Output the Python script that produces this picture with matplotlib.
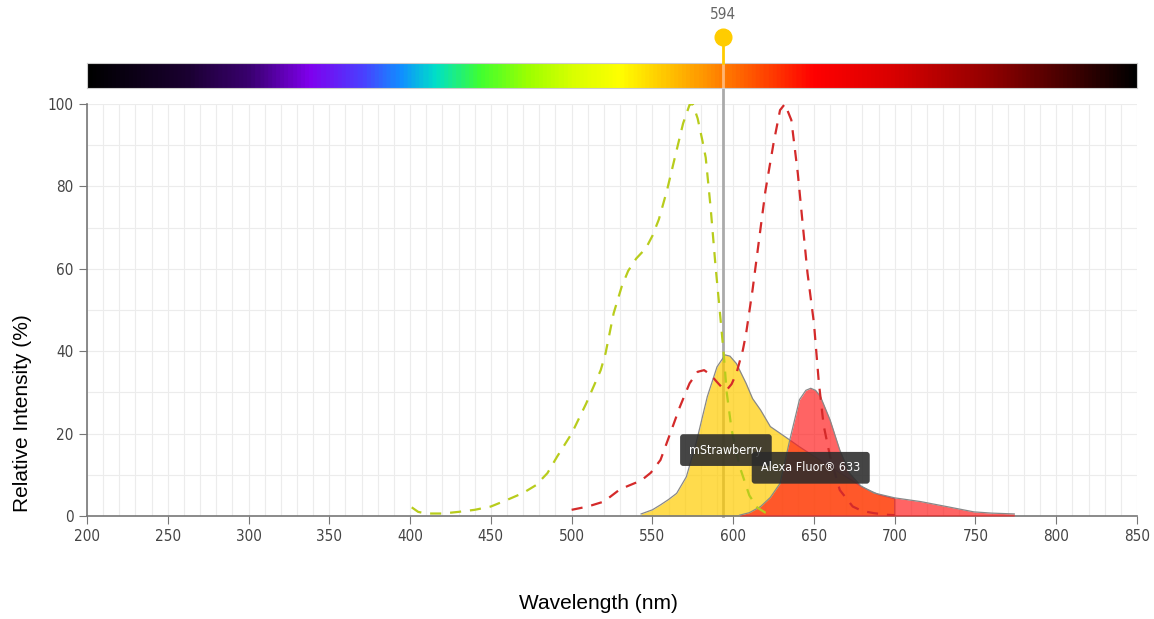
import numpy as np
import matplotlib
matplotlib.use("Agg")
import matplotlib.pyplot as plt
from matplotlib.colors import LinearSegmentedColormap

# ---- data ----
laser_nm = 594

exc_green_nm = [401, 405, 410, 420, 430, 440, 450, 460, 470, 478, 485, 491, 500, 509, 518,
                521, 526, 531, 535, 540, 546, 550, 554, 559, 565, 569, 573, 575, 578, 581,
                583, 586, 589, 592, 594, 596, 599, 604, 610, 615, 620, 625]
exc_green_val = [2.1, 1.0, 0.6, 0.6, 1.0, 1.5, 2.3, 3.9, 5.6, 7.5, 10.4, 14.4, 20, 27.3, 35.4,
                 39.5, 49.2, 55.7, 59.5, 62.5, 65, 68, 72, 79, 88.8, 95.3, 99.8, 100, 96.5, 91,
                 87, 75, 61, 48.5, 40, 30, 21, 12, 5, 2, 0.8, 0.3]

exc_red_nm = [500, 510, 520, 530, 538, 543, 549, 555, 561, 567, 573, 578, 582, 586, 590, 594,
              596, 599, 602, 606, 608, 612, 616, 620, 625, 629, 632, 636, 640, 643, 646, 650,
              653, 656, 660, 666, 674, 680, 687, 695, 700]
exc_red_val = [1.5, 2.3, 3.5, 6.5, 7.8, 8.6, 10.5, 13.6, 20, 26.5, 32.2, 35, 35.4, 34.3, 32.5,
               30.8, 30.6, 32, 34.6, 40.3, 44.3, 54.9, 67, 79, 90.5, 98.5, 100, 96.1, 83.2, 71,
               59, 46.8, 32.5, 22, 14.4, 6.3, 2.3, 1.2, 0.7, 0.3, 0.2]

em_yellow_nm = [543, 550, 555, 560, 565, 571, 577, 584, 590, 595, 598, 602, 608, 612, 617, 623,
                633, 641, 650, 660, 670, 680, 690, 700]
em_yellow_val = [0.5, 1.5, 2.7, 4, 5.5, 9.5, 17.6, 29, 36.2, 39.1, 38.8, 37, 32.2, 28.5, 25.7,
                 21.7, 19, 16.8, 14.5, 12, 9.5, 7, 5.2, 4.2]

em_red_nm = [604, 610, 617, 623, 629, 635, 639, 641, 645, 648, 651, 654, 660, 666, 672, 679,
             687, 700, 716, 732, 749, 760, 774]
em_red_val = [0.2, 0.8, 2.3, 4.5, 7.9, 18.4, 24.9, 28.2, 30.5, 31, 30.5, 29, 23.3, 16, 10.4,
              7.3, 5.6, 4.4, 3.5, 2.3, 1.0, 0.7, 0.5]

labels = ["mStrawberry", "Alexa Fluor® 633"]
label_pos = [(595.5, 16.0), (648, 11.7)]

spectrum_nm = [200, 260, 300, 337, 370, 394, 415, 443, 474, 500, 530, 580, 620, 650, 700,
               760, 810, 850]
spectrum_col = ["#000000", "#1a0030", "#3a0070", "#8000ee", "#4a40ff", "#1090ff", "#00e0c8",
                "#40ff30", "#a0ff00", "#d8ff00", "#ffff00", "#ff9900", "#ff4400", "#ff0000",
                "#d80000", "#900000", "#400000", "#000000"]

plain = ["Liberation Sans", "DejaVu Sans"]
narrow = dict(family="DejaVu Sans", stretch="condensed")

fig = plt.figure(figsize=(11.54, 6.19), dpi=100)
ax = fig.add_axes([0.0754, 0.1664, 0.9099, 0.6656])
bar = fig.add_axes([0.0754, 0.8578, 0.9099, 0.0404])

# ---- main axes ----
ax.set_xlim(200, 850)
ax.set_ylim(0, 100)
ax.set_xticks(range(200, 851, 50))
ax.set_xticks(range(200, 851, 10), minor=True)
ax.set_yticks(range(0, 101, 20))
ax.set_yticks(range(0, 101, 10), minor=True)
ax.grid(True, which="both", color="#ececec", lw=0.8, zorder=0)
ax.set_axisbelow(True)
for s in ("top", "right"):
    ax.spines[s].set_visible(False)
for s in ("left", "bottom"):
    ax.spines[s].set_color("#777777")
    ax.spines[s].set_linewidth(1.2)
ax.tick_params(which="major", length=6, color="#777777", labelsize=11, labelcolor="#444444")
ax.tick_params(which="minor", length=0)
for t in ax.get_xticklabels() + ax.get_yticklabels():
    t.set_family(narrow["family"])
    t.set_stretch(narrow["stretch"])
ax.set_xlabel("Wavelength (nm)", family=plain, fontsize=15)
ax.set_ylabel("Relative Intensity (%)", family=plain, fontsize=15)
ax.xaxis.set_label_coords(0.487, -0.19)
ax.yaxis.set_label_coords(-0.052, 0.25)

# laser line (under fills so it is tinted)
ax.plot([laser_nm, laser_nm], [0, 104], color="#aaaaaa", lw=2, clip_on=False, zorder=1)

ax.fill_between(em_yellow_nm, em_yellow_val, color="#ffcc00", alpha=0.7, lw=0, zorder=2)
ax.plot(em_yellow_nm + [em_yellow_nm[-1]], em_yellow_val + [0], color="#888888", lw=0.9, zorder=3)
ax.fill_between(em_red_nm, em_red_val, color="#ff1a1a", alpha=0.68, lw=0, zorder=4)
ax.plot(em_red_nm, em_red_val, color="#888888", lw=0.9, zorder=5)

ax.plot(exc_green_nm, exc_green_val, color="#b8cc1c", lw=1.6, dashes=(5, 4), zorder=6)
ax.plot(exc_red_nm, exc_red_val, color="#d42a2a", lw=1.6, dashes=(5, 4), zorder=6)

for text, (x, y) in zip(labels, label_pos):
    ax.text(x, y, text, fontsize=9, color="white", ha="center", va="center", zorder=8,
            bbox=dict(boxstyle="round,pad=0.75,rounding_size=0.25", fc="#2b2b2b",
                      ec="none", alpha=0.88), **narrow)

# ---- spectrum bar ----
pos = [(n - 200) / 650 for n in spectrum_nm]
cmap = LinearSegmentedColormap.from_list("spec", list(zip(pos, spectrum_col)))
bar.imshow(np.linspace(0, 1, 800)[None, :], cmap=cmap, aspect="auto",
           extent=[200, 850, 0, 1])
bar.set_xlim(200, 850)
bar.set_ylim(0, 1)
bar.set_xticks([])
bar.set_yticks([])
for s in bar.spines.values():
    s.set_color("#cccccc")
    s.set_linewidth(0.8)

bar.plot([laser_nm, laser_nm], [0, 1], color="white", alpha=0.45, lw=2, zorder=3)
bar.plot([laser_nm, laser_nm], [1, 2.0], color="#ffcc00", lw=2, clip_on=False, zorder=3)
bar.plot([laser_nm], [2.04], marker="o", ms=12, color="#ffcc00", mec="#ffcc00",
         clip_on=False, zorder=4)
bar.text(laser_nm, 2.92, str(laser_nm), fontsize=11, color="#666666",
         ha="center", va="center", clip_on=False, **narrow)

fig.savefig("out.png", dpi=100)
